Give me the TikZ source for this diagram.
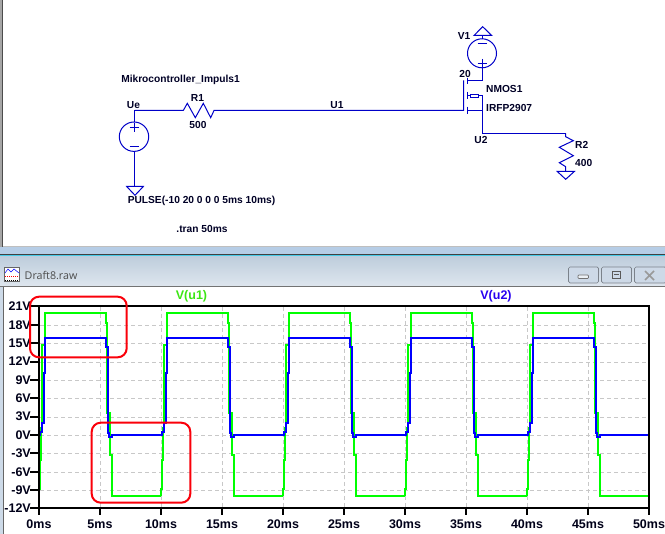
\documentclass[tikz,border=0pt]{standalone}
\usepackage{fontspec}
\setmainfont{Liberation Sans}
\newfontfamily\uifont{Open Sans}
\definecolor{wire}{RGB}{0,0,200}
\definecolor{gridc}{RGB}{200,200,200}
\definecolor{trgreen}{RGB}{0,255,0}
\definecolor{trblue}{RGB}{0,0,255}
\definecolor{lblgreen}{RGB}{60,230,20}
\definecolor{lblblue}{RGB}{40,0,240}
\definecolor{boxred}{RGB}{250,0,10}
\definecolor{btn}{RGB}{205,217,231}
\definecolor{strip}{RGB}{182,205,230}
\definecolor{edgecyan}{RGB}{70,200,230}
\definecolor{titletop}{RGB}{190,205,220}
\definecolor{titlebot}{RGB}{222,230,238}
\definecolor{sideframe}{RGB}{205,218,232}
\tikzset{
 wireline/.style={draw=wire,line width=1pt,line join=miter},
 schem/.style={font=\fontsize{10.2}{12}\selectfont\bfseries,text=black!85!blue,inner sep=0pt},
 schemleft/.style={schem,anchor=west},
 axlabel/.style={font=\fontsize{12.5}{14}\selectfont\bfseries,text=black!90!blue,inner sep=0pt},
 gridline/.style={draw=gridc,line width=1pt,dash pattern=on 4pt off 3pt},
 tracegreen/.style={draw=trgreen,line width=2pt,line join=miter},
 traceblue/.style={draw=trblue,line width=2pt,line join=miter},
 redbox/.style={draw=boxred,line width=2pt,rounded corners=9pt},
 winbtn/.style={draw=black!40!btn,fill=btn,line width=0.7pt,rounded corners=1.5pt},
}
\begin{document}
\begin{tikzpicture}[x=1pt,y=-1pt]
\useasboundingbox (0,0) rectangle (665,534);
% window chrome
\fill[white] (0,0) rectangle (665,534);
\fill[black!35] (0,0) rectangle (3,247);
\fill[black!70] (2.4,0) rectangle (3,247);
\fill[black!25] (3,246) rectangle (665,247.5);
\fill[strip] (0,247.5) rectangle (665,254);
\fill[black!75] (0,254) rectangle (665,255);
\fill[edgecyan] (0,255) rectangle (665,255.8);
\fill[black!75] (0,255.8) rectangle (665,256.5);
\shade[top color=titletop,bottom color=titlebot] (0,256.5) rectangle (665,286);
\fill[black!55] (0,286) rectangle (665,287.2);
\fill[sideframe] (0,287.2) rectangle (3,534);
\fill[black!60] (3,287.2) rectangle (3.6,534);
% title-bar icon
\fill[white] (4.5,267) rectangle (19.5,281);
\draw[black!60,line width=0.5pt] (4.5,267) rectangle (19.5,281);
\draw[blue,line width=0.5pt] (5,273) -- (8,269) -- (11,272) -- (14,269) -- (19,273);
\draw[red,line width=0.6pt,dash pattern=on 1pt off 1pt] (5,276) -- (19,276);
\draw[black,line width=0.8pt,dash pattern=on 1pt off 1pt] (5,280) -- (19,280);
\node[anchor=west,inner sep=0pt,text=black!70,font=\uifont\fontsize{10.7}{12}\selectfont] (title) at (24.5,275) {Draft8.raw};
% window buttons
\draw[winbtn] (568.5,267) rectangle (598.5,283);
\draw[winbtn] (601.5,267) rectangle (631.5,283);
\draw[winbtn] (634.5,267) rectangle (666,283);
\draw[black!55,fill=white!60!btn,line width=0.7pt,rounded corners=0.8pt] (578,275) rectangle (588.5,278.5);
\draw[black!65,line width=1pt] (612,272) rectangle (620.5,279);
\fill[black!65] (614,274.3) rectangle (618.5,275.5);
\draw[black!40,line width=1.7pt] (645,271) -- (654,280) (654,271) -- (645,280);
% schematic points
\coordinate (ue) at (134.5,110.5);
\coordinate (rone) at (183.3,110.5);
\coordinate (roneb) at (214,110.5);
\coordinate (gate) at (463.5,110.5);
\coordinate (gatetop) at (463.5,80.5);
\coordinate (draina) at (467.5,80.5);
\coordinate (drainb) at (482.5,80.5);
\coordinate (sourcea) at (467.5,110.5);
\coordinate (sourceb) at (482.5,110.5);
\coordinate (utwo) at (482.5,133.5);
\coordinate (rtwo) at (565.5,133.5);
% input source
\node[draw=wire,line width=1pt,circle,minimum size=29.4pt,inner sep=0pt] (vin) at (134,136.7) {};
\draw[wireline] (134.5,123.5) -- (134.5,132) (129.5,127.5) -- (138.5,127.5) (129.5,146.5) -- (138.5,146.5);
\coordinate (gndin) at (134.5,186);
\draw[wireline] (ue) -- (134.5,122);
\draw[wireline] (134.5,151.4) -- (gndin);
\draw[wireline] (126.7,186.5) -- (143.3,186.5) -- (135,195.3) -- cycle;
% R1
\draw[wireline] (ue) -- (rone) -- (187.3,103.3) -- (195.3,117.7) -- (203.3,103.3) -- (210.7,117.7) -- (roneb) -- (gate) -- (gatetop);
% MOSFET
\draw[wireline] (467.5,77.7) -- (467.5,84) (467.5,91.7) -- (467.5,99.3) (467.5,106.7) -- (467.5,114.3);
\draw[wireline] (draina) -- (drainb);
\draw[wireline] (sourcea) -- (sourceb);
\draw[wireline] (467.5,96) -- (470.5,96) (470.5,94.5) rectangle (478.5,97.5) (478.5,95.5) -- (482.5,95.5);
\draw[wireline] (482.5,95.5) -- (sourceb) -- (utwo) -- (rtwo);
% V1
\node[draw=wire,line width=1pt,circle,minimum size=29pt,inner sep=0pt] (vone) at (482,53.3) {};
\draw[wireline] (477.5,43.5) -- (486.5,43.5) (477.5,63.5) -- (486.5,63.5) (482.5,59) -- (482.5,67);
\draw[wireline] (482.5,67.5) -- (drainb);
\coordinate (gndv) at (482.5,35.5);
\draw[wireline] (482.5,39) -- (gndv);
\draw[wireline] (474,35.5) -- (491.7,35.5) -- (482.7,26.7) -- cycle;
% R2
\coordinate (gndr) at (565.5,171);
\draw[wireline] (rtwo) -- (565.7,136.7) -- (573.3,140.7) -- (559.3,147.3) -- (573.3,155.7) -- (559.3,162.7) -- (565.7,166.7) -- (gndr);
\draw[wireline] (557.3,171.5) -- (574.3,171.5) -- (565.7,179.3) -- cycle;
% schematic labels
\node[schem] (lmik) at (180.5,80) {Mikrocontroller\_Impuls1};
\node[schem] (lue) at (133.5,105) {Ue};
\node[schem] (lrone) at (197.5,97.5) {R1};
\node[schem] (lrv) at (198,124.5) {500};
\node[schem] (luone) at (337,105) {U1};
\node[schem] (lpulse) at (201.5,200.5) {PULSE(-10 20 0 0 0 5ms 10ms)};
\node[schem] (ltran) at (202,229) {.tran 50ms};
\node[schem] (lvone) at (464,36) {V1};
\node[schem] (ltw) at (465,74) {20};
\node[schemleft] (lnmos) at (486,88.5) {NMOS1};
\node[schemleft] (lirfp) at (486,107.5) {IRFP2907};
\node[schem] (lutwo) at (481,139.7) {U2};
\node[schemleft] (lrtwo) at (575,144.7) {R2};
\node[schemleft] (lrtv) at (575,163) {400};
% plot grid
\foreach \t in {1,...,9} \draw[gridline] ({39.5+61*\t},307) -- ({39.5+61*\t},507);
\foreach \v in {-9,-6,...,18} \draw[gridline] (40,{round(435-6.12*\v)+.5}) -- (648,{round(435-6.12*\v)+.5});
% traces
\begin{scope}
\clip (39,306) rectangle (649,508);
\foreach \k in {0,...,4} {
\begin{scope}[xshift={39pt+122pt*\k}]
\draw[tracegreen] (0,496) -- (0,489) -- (1,489) -- (1,460) -- (2,460) -- (2,428) -- (3,428) -- (3,345) -- (6,345) -- (6,313) -- (67,313) -- (67,323) -- (68,323) -- (68,413) -- (71,413) -- (71,455) -- (73,455) -- (73,496) -- (122,496);
\end{scope}}
\foreach \k in {0,...,4} {
\begin{scope}[xshift={39pt+122pt*\k}]
\draw[traceblue] (-1,435) -- (1,435) -- (1,432) -- (3,432) -- (3,423) -- (5,423) -- (5,373) -- (6,373) -- (6,338) -- (67,338) -- (67,347) -- (69,347) -- (69,433) -- (70,433) -- (70,437) -- (73,437) -- (73,435) -- (123,435);
\end{scope}}
\end{scope}
% axes
\draw[black,line width=2pt] (39,306) rectangle (649,508);
\foreach \v/\lab in {21/21V,18/18V,15/15V,12/12V,9/9V,6/6V,3/3V,0/0V,-3/-3V,-6/-6V,-9/-9V,-12/-12V} {
 \draw[black,line width=2pt] (30,{round(435-6.12*\v)}) -- (39,{round(435-6.12*\v)});
 \node[axlabel,anchor=east] (y\v) at (31,{435-6.12*\v}) {\lab};
}
\foreach \t/\lab in {0/0ms,1/5ms,2/10ms,3/15ms,4/20ms,5/25ms,6/30ms,7/35ms,8/40ms,9/45ms,10/50ms} {
 \draw[black,line width=2pt] ({39+61*\t},508) -- ({39+61*\t},515.5);
 \node[axlabel] (x\t) at ({39+61*\t},524) {\lab};
}
\node[axlabel,text=lblgreen] (lvuone) at (191.5,296.5) {V(u1)};
\node[axlabel,text=lblblue] (lvutwo) at (496,296.5) {V(u2)};
% red highlight boxes
\draw[redbox] (30,296.7) rectangle (126.7,357.3);
\draw[redbox] (91.7,422.7) rectangle (190.3,502.7);
\end{tikzpicture}
\end{document}
